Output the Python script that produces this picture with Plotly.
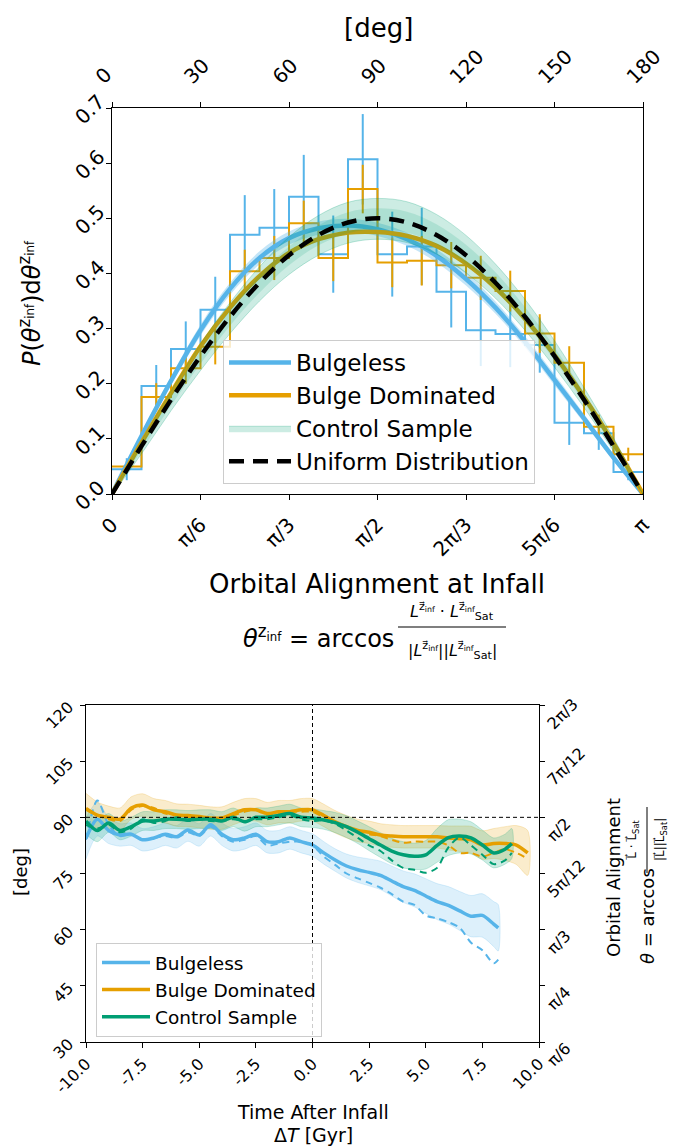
import numpy as np
import plotly.graph_objects as go

BLUE = "#56B4E9"
ORANGE = "#E69F00"
GREEN = "#009E73"

# ---------------- top panel data ----------------
bin_edges_deg = [0, 10, 20, 30, 40, 50, 60, 70, 80, 90, 100, 110, 120, 130, 140, 150, 160, 170, 180]
bulgeless_hist = [0.045, 0.196, 0.263, 0.334, 0.470, 0.483, 0.539, 0.435, 0.607, 0.435, 0.449, 0.367, 0.297, 0.290, 0.270, 0.129, 0.110, 0.040]
bulgeless_err = [0.020, 0.038, 0.050, 0.060, 0.072, 0.070, 0.076, 0.070, 0.082, 0.077, 0.070, 0.065, 0.065, 0.060, 0.050, 0.040, 0.030, 0.015]
bulge_dom_hist = [0.050, 0.176, 0.228, 0.267, 0.404, 0.428, 0.491, 0.428, 0.553, 0.420, 0.423, 0.415, 0.392, 0.368, 0.291, 0.238, 0.122, 0.072]
bulge_dom_err = [0.010, 0.025, 0.028, 0.032, 0.039, 0.040, 0.041, 0.042, 0.044, 0.045, 0.045, 0.042, 0.040, 0.037, 0.035, 0.030, 0.022, 0.012]

curve_deg = [0, 10, 20, 30, 40, 50, 60, 70, 80, 90, 100, 110, 120, 130, 140, 150, 160, 170, 180]
bulgeless_fit = [0, 0.105, 0.205, 0.297, 0.372, 0.428, 0.464, 0.482, 0.487, 0.480, 0.462, 0.432, 0.390, 0.338, 0.276, 0.207, 0.137, 0.066, 0]
bulgeless_fit_half = [0, 0.006, 0.008, 0.010, 0.011, 0.012, 0.012, 0.012, 0.012, 0.012, 0.012, 0.012, 0.012, 0.011, 0.010, 0.010, 0.008, 0.006, 0]
bulge_dom_fit = [0, 0.093, 0.183, 0.268, 0.338, 0.395, 0.437, 0.462, 0.474, 0.475, 0.468, 0.450, 0.418, 0.374, 0.318, 0.252, 0.176, 0.092, 0]
uniform_curve = [0, 0.0868, 0.171, 0.250, 0.3214, 0.383, 0.433, 0.4698, 0.4924, 0.500, 0.4924, 0.4698, 0.433, 0.383, 0.3214, 0.250, 0.171, 0.0868, 0]
control_mid = [0, 0.085, 0.169, 0.248, 0.319, 0.381, 0.432, 0.469, 0.492, 0.499, 0.493, 0.471, 0.435, 0.386, 0.325, 0.254, 0.175, 0.090, 0]
control_outer = [0, 0.012, 0.018, 0.024, 0.028, 0.031, 0.034, 0.036, 0.037, 0.037, 0.037, 0.036, 0.034, 0.031, 0.028, 0.024, 0.018, 0.012, 0]
control_inner = [0, 0.006, 0.009, 0.012, 0.014, 0.016, 0.017, 0.018, 0.019, 0.019, 0.019, 0.018, 0.017, 0.016, 0.014, 0.012, 0.009, 0.006, 0]

top_xtick_labels = ["0", "π/6", "π/3", "π/2", "2π/3", "5π/6", "π"]
deg_ticks = [0, 30, 60, 90, 120, 150, 180]

# ---------------- bottom panel data ----------------
t_bulgeless = [-10, -9.5, -9, -8.5, -8, -7.5, -7, -6.5, -6, -5.5, -5, -4.5, -4, -3.5, -3, -2.5, -2, -1.5, -1, -0.5,
               0, 0.5, 1, 1.5, 2, 2.5, 3, 3.5, 4, 4.5, 5, 5.5, 6, 6.5, 7, 7.5, 8, 8.2]
bulgeless_mean = [84.4, 89.5, 86.5, 85.3, 85.5, 84.0, 84.5, 85.5, 84.8, 86.6, 85.3, 88.0, 85.5, 84.0, 84.5, 85.5, 83.5, 83.5, 84.5, 83.5,
                  82.6, 80.5, 78.6, 77.0, 76.0, 75.3, 74.5, 73.0, 71.5, 70.5, 69.0, 67.5, 66.5, 65.0, 63.6, 63.8, 61.5, 60.5]
bulgeless_median = [84.0, 94.5, 88.0, 85.0, 85.5, 84.0, 84.5, 85.0, 84.5, 86.0, 85.0, 87.5, 85.0, 83.5, 84.0, 85.0, 82.5, 83.0, 83.5, 83.5,
                    82.5, 79.5, 77.3, 75.0, 73.7, 72.5, 71.2, 69.5, 67.5, 66.6, 63.8, 63.0, 62.0, 60.5, 56.5, 54.5, 51.0, 52.0]
bulgeless_half = [5.5, 4.5, 3.5, 3.0, 3.0, 3.0, 3.0, 3.0, 3.0, 3.0, 3.0, 3.0, 3.0, 3.0, 3.0, 3.0, 3.0, 3.0, 3.0, 3.0,
                  3.0, 3.0, 3.0, 3.2, 3.4, 3.6, 3.8, 4.0, 4.2, 4.4, 4.6, 4.8, 5.0, 5.2, 5.5, 5.8, 6.0, 6.2]

t_bulge_dom = [-10, -9.5, -9, -8.5, -8, -7.5, -7, -6.5, -6, -5.5, -5, -4.5, -4, -3.5, -3, -2.5, -2, -1.5, -1, -0.5,
               0, 0.5, 1, 1.5, 2, 2.5, 3, 3.5, 4, 4.5, 5, 5.5, 6, 6.5, 7, 7.5, 8, 8.5, 9, 9.5]
bulge_dom_mean = [92.4, 90.6, 90.0, 89.5, 92.5, 93.3, 92.0, 91.5, 90.6, 90.5, 90.2, 89.8, 89.8, 91.0, 92.0, 92.0, 91.0, 91.5, 91.5, 92.0,
                  92.0, 90.5, 88.8, 87.5, 86.5, 86.0, 85.3, 85.0, 84.8, 84.8, 84.8, 84.8, 84.5, 84.3, 84.0, 82.6, 83.0, 83.0, 82.6, 80.5]
bulge_dom_median = [92.0, 90.5, 89.5, 89.0, 92.0, 93.0, 92.5, 91.0, 90.5, 90.0, 90.0, 89.5, 90.0, 90.5, 91.5, 92.0, 90.5, 91.0, 91.5, 91.5,
                    91.5, 90.0, 88.5, 87.5, 86.5, 85.5, 85.0, 84.0, 83.2, 83.5, 83.5, 83.5, 82.5, 80.5, 80.5, 79.5, 80.5, 81.5, 80.5, 79.0]
bulge_dom_half = [4.0, 3.5, 3.0, 3.0, 3.0, 3.0, 3.0, 3.0, 3.0, 3.0, 3.0, 3.0, 3.0, 3.0, 3.0, 3.0, 3.0, 3.0, 3.0, 3.0,
                  3.0, 3.0, 3.0, 3.0, 3.0, 3.0, 3.0, 3.0, 3.0, 3.0, 3.0, 3.0, 3.2, 3.4, 3.6, 3.8, 4.0, 4.5, 5.2, 6.0]

t_control = [-10, -9.5, -9, -8.5, -8, -7.5, -7, -6.5, -6, -5.5, -5, -4.5, -4, -3.5, -3, -2.5, -2, -1.5, -1, -0.5,
             0, 0.5, 1, 1.5, 2, 2.5, 3, 3.5, 4, 4.5, 5, 5.5, 6, 6.5, 7, 7.5, 8, 8.5, 8.8]
control_mean = [89.0, 86.5, 88.5, 86.5, 87.5, 89.0, 89.0, 89.5, 89.5, 89.3, 89.5, 89.5, 89.0, 90.0, 88.8, 90.0, 90.0, 90.5, 91.0, 90.0,
                89.8, 89.3, 88.6, 87.5, 86.0, 84.3, 82.6, 81.0, 80.0, 79.6, 80.0, 82.5, 84.6, 85.0, 84.5, 82.6, 80.5, 81.5, 83.0]
control_median = [88.0, 87.0, 88.0, 86.0, 87.0, 89.5, 88.5, 89.0, 90.0, 89.0, 89.5, 89.0, 89.0, 89.5, 89.0, 89.5, 89.5, 90.0, 90.5, 89.5,
                  89.0, 89.2, 88.2, 86.5, 84.5, 82.5, 81.0, 78.5, 76.5, 76.0, 75.2, 76.5, 82.0, 84.6, 82.5, 80.0, 77.5, 78.5, 80.5]
control_half = [3.5, 3.0, 2.5, 2.5, 2.5, 2.5, 2.5, 2.5, 2.5, 2.5, 2.5, 2.5, 2.5, 2.5, 2.5, 2.5, 2.5, 2.5, 2.5, 2.5,
                2.5, 2.5, 2.7, 2.9, 3.0, 3.2, 3.3, 3.4, 3.5, 3.5, 3.8, 4.5, 4.8, 4.5, 4.3, 4.0, 4.0, 4.0, 4.0]

time_ticks = [-10, -7.5, -5, -2.5, 0, 2.5, 5, 7.5, 10]
deg_ticks_bottom = [30, 45, 60, 75, 90, 105, 120]
pi_tick_labels = ["π/6", "π/4", "π/3", "5π/12", "π/2", "7π/12", "2π/3"]

W, H = 678, 1147


def px(x):
    return x / W


def py(y):
    return 1 - y / H


def rgba(hexc, a):
    h = hexc.lstrip("#")
    return "rgba(%d,%d,%d,%s)" % (int(h[0:2], 16), int(h[2:4], 16), int(h[4:6], 16), a)


fig = go.Figure()

rad = lambda d: list(np.deg2rad(np.array(d, dtype=float)))
edges = rad(bin_edges_deg)
centers = rad([(bin_edges_deg[i] + bin_edges_deg[i + 1]) / 2 for i in range(len(bin_edges_deg) - 1)])
cx = rad(curve_deg)

# histograms (step)
for vals, errs, col in [(bulgeless_hist, bulgeless_err, BLUE), (bulge_dom_hist, bulge_dom_err, ORANGE)]:
    fig.add_trace(go.Scatter(x=edges, y=list(vals) + [vals[-1]], mode="lines", line=dict(color=col, width=2, shape="hv"),
                             showlegend=False, hoverinfo="skip", xaxis="x", yaxis="y"))
    fig.add_trace(go.Scatter(x=centers, y=vals, mode="markers", marker=dict(size=1, color=col),
                             error_y=dict(type="data", array=errs, color=col, thickness=2, width=0),
                             showlegend=False, hoverinfo="skip", xaxis="x", yaxis="y"))

# bulgeless faint band
bl_up = [m + h for m, h in zip(bulgeless_fit, bulgeless_fit_half)]
bl_lo = [m - h for m, h in zip(bulgeless_fit, bulgeless_fit_half)]
fig.add_trace(go.Scatter(x=cx + cx[::-1], y=bl_up + bl_lo[::-1], fill="toself", fillcolor=rgba(BLUE, 0.35),
                         line=dict(width=0, shape="spline"), mode="lines", showlegend=False, hoverinfo="skip"))
fig.add_trace(go.Scatter(x=cx, y=bulgeless_fit, mode="lines", name="Bulgeless", legendrank=1,
                         line=dict(color=BLUE, width=4.5, shape="spline"), legend="legend"))
fig.add_trace(go.Scatter(x=cx, y=bulge_dom_fit, mode="lines", name="Bulge Dominated", legendrank=2,
                         line=dict(color=ORANGE, width=4.5, shape="spline"), legend="legend"))

# control bands
c_up = [m + h for m, h in zip(control_mid, control_outer)]
c_lo = [m - h for m, h in zip(control_mid, control_outer)]
fig.add_trace(go.Scatter(x=cx + cx[::-1], y=c_up + c_lo[::-1], fill="toself", fillcolor=rgba(GREEN, 0.2),
                         line=dict(width=1, color=rgba(GREEN, 0.25), shape="spline"), mode="lines",
                         name="Control Sample", legendrank=3, legend="legend", hoverinfo="skip"))
ci_up = [m + h for m, h in zip(control_mid, control_inner)]
ci_lo = [m - h for m, h in zip(control_mid, control_inner)]
fig.add_trace(go.Scatter(x=cx + cx[::-1], y=ci_up + ci_lo[::-1], fill="toself", fillcolor=rgba(GREEN, 0.15),
                         line=dict(width=0, shape="spline"), mode="lines", showlegend=False, hoverinfo="skip"))

fig.add_trace(go.Scatter(x=cx, y=uniform_curve, mode="lines", name="Uniform Distribution", legendrank=4,
                         line=dict(color="black", width=4.5, dash="15px,9px", shape="spline"), legend="legend"))

# dummy for top degree axis
fig.add_trace(go.Scatter(x=[0, 180], y=[0, 0], xaxis="x2", yaxis="y", mode="lines", opacity=0,
                         showlegend=False, hoverinfo="skip"))

# ---------------- bottom panel ----------------
series = [
    ("Bulgeless", BLUE, t_bulgeless, bulgeless_mean, bulgeless_median, bulgeless_half),
    ("Bulge Dominated", ORANGE, t_bulge_dom, bulge_dom_mean, bulge_dom_median, bulge_dom_half),
    ("Control Sample", GREEN, t_control, control_mean, control_median, control_half),
]
for name, col, t, m, md, hw in series:
    up = [a + b for a, b in zip(m, hw)]
    lo = [a - b for a, b in zip(m, hw)]
    fig.add_trace(go.Scatter(x=list(t) + list(t)[::-1], y=up + lo[::-1], fill="toself", fillcolor=rgba(col, 0.2),
                             line=dict(width=0.8, color=rgba(col, 0.25), shape="spline", smoothing=0.8), mode="lines",
                             showlegend=False, hoverinfo="skip", xaxis="x3", yaxis="y3"))
for name, col, t, m, md, hw in series:
    fig.add_trace(go.Scatter(x=t, y=md, mode="lines", line=dict(color=col, width=2, dash="7px,5px", shape="spline", smoothing=0.8),
                             showlegend=False, hoverinfo="skip", xaxis="x3", yaxis="y3"))
    fig.add_trace(go.Scatter(x=t, y=m, mode="lines", name=name, line=dict(color=col, width=3.5, shape="spline", smoothing=0.8),
                             legend="legend2", xaxis="x3", yaxis="y3"))

fig.add_trace(go.Scatter(x=[-10, 10], y=[30, 30], xaxis="x3", yaxis="y4", mode="lines", opacity=0,
                         showlegend=False, hoverinfo="skip"))

axis_common = dict(showgrid=False, zeroline=False, showline=True, linecolor="black", linewidth=1.2,
                   ticks="outside", ticklen=5, tickwidth=1.2, tickcolor="black", automargin=False,
                   ticklabeloverflow="allow")

fig.update_layout(
    template="none",
    width=W, height=H, margin=dict(l=0, r=0, t=0, b=0, autoexpand=False),
    plot_bgcolor="white", paper_bgcolor="white",
    font=dict(family="DejaVu Sans", color="black"),
    xaxis=dict(domain=[px(112), px(643)], range=[0, np.pi], anchor="y",
               tickvals=rad(deg_ticks), ticktext=top_xtick_labels, tickangle=-45, ticklabelstandoff=5,
               tickfont=dict(size=20), **axis_common),
    xaxis2=dict(overlaying="x", side="top", anchor="y", range=[0, 180], tickvals=deg_ticks,
                ticktext=[str(v) for v in deg_ticks], tickangle=-45, ticklabelshift=-15, ticklabelstandoff=6,
                tickfont=dict(size=20), **axis_common),
    yaxis=dict(domain=[py(494), py(108)], range=[0, 0.7], anchor="x", tickvals=[0, 0.1, 0.2, 0.3, 0.4, 0.5, 0.6, 0.7],
               tickformat=".1f", tickangle=-45, ticklabelshift=-9, ticklabelstandoff=3,
               tickfont=dict(size=20), mirror=True, **axis_common),
    xaxis3=dict(domain=[px(86), px(539)], range=[-10, 10], anchor="y3", tickvals=time_ticks,
                ticktext=["%.1f" % v for v in time_ticks], tickangle=-45,
                tickfont=dict(size=16), mirror=True, **axis_common),
    yaxis3=dict(domain=[py(1042), py(705)], range=[30, 120], anchor="x3", tickvals=deg_ticks_bottom,
                ticktext=[str(v) for v in deg_ticks_bottom], tickangle=-45, ticklabelshift=0, ticklabelstandoff=8,
                tickfont=dict(size=16), **axis_common),
    yaxis4=dict(overlaying="y3", side="right", anchor="x3", range=[30, 120], tickvals=deg_ticks_bottom,
                ticktext=pi_tick_labels, tickangle=-45, ticklabelshift=22, tickfont=dict(size=16), **axis_common),
    legend=dict(x=px(223), y=py(340), xanchor="left", yanchor="top", font=dict(size=23), itemwidth=62,
                bgcolor="rgba(255,255,255,0.8)", bordercolor="#cccccc", borderwidth=1, traceorder="normal"),
    legend2=dict(x=px(96), y=py(943), xanchor="left", yanchor="top", font=dict(size=18.5), itemwidth=48,
                 bgcolor="rgba(255,255,255,0.8)", bordercolor="#cccccc", borderwidth=1),
)

# reference lines
fig.add_shape(type="line", xref="x3", yref="y3 domain", x0=0, x1=0, y0=0, y1=1,
              line=dict(color="black", width=1, dash="4px,3px"))
fig.add_shape(type="line", xref="x3 domain", yref="y3", x0=0, x1=1, y0=90, y1=90,
              line=dict(color="black", width=1, dash="4px,3px"))

ann = []
ann.append(dict(text="[deg]", x=px(378), y=py(28), font=dict(size=26)))
ann.append(dict(text="Orbital Alignment at Infall", x=px(377), y=py(584), font=dict(size=26)))
ann.append(dict(text="<i>P</i>(<i>θ</i><sup>z<sub>inf</sub></sup>)d<i>θ</i><sup>z<sub>inf</sub></sup>",
                x=px(30), y=py(303), textangle=-90, font=dict(size=24)))
ann.append(dict(text="<i>θ</i><sup>z<sub>inf</sub></sup> = arccos", x=px(396), y=py(637), xanchor="right",
                font=dict(size=24)))
ann.append(dict(text="<i>L</i><sup>z⃗<sub>inf</sub></sup> · <i>L</i><sup>z⃗<sub>inf</sub></sup><sub>Sat</sub>",
                x=px(452), y=py(611), font=dict(size=16)))
ann.append(dict(text="|<i>L</i><sup>z⃗<sub>inf</sub></sup>||<i>L</i><sup>z⃗<sub>inf</sub></sup><sub>Sat</sub>|",
                x=px(452), y=py(650), font=dict(size=16)))
fig.add_shape(type="line", xref="paper", yref="paper", x0=px(398), x1=px(506), y0=py(627), y1=py(627),
              line=dict(color="black", width=1.2))

ann.append(dict(text="[deg]", x=px(20), y=py(872), textangle=-90, font=dict(size=18)))
ann.append(dict(text="Time After Infall", x=px(313), y=py(1112), font=dict(size=19)))
ann.append(dict(text="Δ<i>T</i> [Gyr]", x=px(313), y=py(1135), font=dict(size=19)))
ann.append(dict(text="Orbital Alignment", x=px(613), y=py(878), textangle=-90, font=dict(size=18)))
ann.append(dict(text="<i>θ</i> = arccos", x=px(647), y=py(916), textangle=-90, font=dict(size=18)))
ann.append(dict(text="L⃗ · L⃗<sub>Sat</sub>", x=px(633), y=py(840), textangle=-90, font=dict(size=12)))
ann.append(dict(text="|L⃗||L⃗<sub>Sat</sub>|", x=px(661), y=py(840), textangle=-90, font=dict(size=12)))
fig.add_shape(type="line", xref="paper", yref="paper", x0=px(647), x1=px(647), y0=py(807), y1=py(873),
              line=dict(color="black", width=1))

for a in ann:
    a.setdefault("xref", "paper")
    a.setdefault("yref", "paper")
    a.setdefault("xanchor", "center")
    a.setdefault("yanchor", "middle")
    a.setdefault("showarrow", False)
    fig.add_annotation(**a)

fig.write_html("out.html", config={"displayModeBar": False},
               post_script="document.body.style.margin='0';document.body.style.padding='0';")
